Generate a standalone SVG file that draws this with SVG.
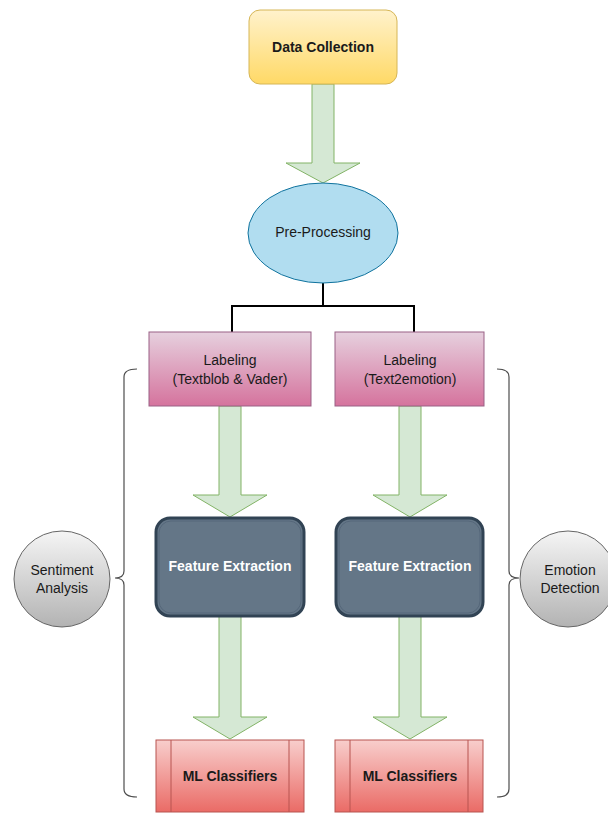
<svg xmlns="http://www.w3.org/2000/svg" width="608" height="814" viewBox="0 0 608 814">
<defs>
<linearGradient id="gY" x1="0" y1="0" x2="0" y2="1"><stop offset="0" stop-color="#fff2cc"/><stop offset="1" stop-color="#ffd966"/></linearGradient>
<linearGradient id="gP" x1="0" y1="0" x2="0" y2="1"><stop offset="0" stop-color="#e6d0de"/><stop offset="1" stop-color="#d5739d"/></linearGradient>
<linearGradient id="gR" x1="0" y1="0" x2="0" y2="1"><stop offset="0" stop-color="#f8cecc"/><stop offset="1" stop-color="#ea6b66"/></linearGradient>
<linearGradient id="gG" x1="0" y1="0" x2="0" y2="1"><stop offset="0" stop-color="#f5f5f5"/><stop offset="1" stop-color="#b3b3b3"/></linearGradient>
</defs>
<style>
text{font-family:"Liberation Sans",Arial,sans-serif;font-size:14px;text-anchor:middle;dominant-baseline:central;fill:#1a1a1a}
.b{font-weight:bold}
.w{fill:#ffffff}
.arr{fill:#d5e8d4;stroke:#82b366;stroke-width:1}
.lab{fill:url(#gP);stroke:#996185;stroke-width:1}
.fe{fill:#647687;stroke:#314354;stroke-width:3}
.fei{fill:none;stroke:#55677a;stroke-width:1}
.ml{fill:url(#gR);stroke:#b85450;stroke-width:1}
.circ{fill:url(#gG);stroke:#666666;stroke-width:1}
.brace{fill:none;stroke:#4d4d4d;stroke-width:1.2}
.conn{fill:none;stroke:#000000;stroke-width:2}
</style>
<g id="connectors">
<polygon class="arr" points="312,84 334,84 334,163 360,163 323,183 286,163 312,163"/>
<path class="conn" d="M323,283 V306 M232,332 V306 H414 V332"/>
<polygon class="arr" points="219,406 241,406 241,495 267,495 230,517 193,495 219,495"/>
<polygon class="arr" points="399,406 421,406 421,495 447,495 410,517 373,495 399,495"/>
<polygon class="arr" points="219,616 241,616 241,717 267,717 230,739 193,717 219,717"/>
<polygon class="arr" points="399,616 421,616 421,717 447,717 410,739 373,717 399,717"/>
<path class="brace" d="M137,369 Q124,369 124,377 L124,571 Q124,578 115,578 Q124,578 124,585 L124,789 Q124,797 137,797"/>
<path class="brace" d="M497,369 Q509,369 509,377 L509,571 Q509,578 519,578 Q509,578 509,585 L509,789 Q509,797 497,797"/>
</g>
<g id="data-collection">
<rect x="249" y="10" width="148" height="74" rx="11" fill="url(#gY)" stroke="#d6b656"/>
<text class="b" x="323" y="47">Data Collection</text>
</g>
<g id="pre-processing">
<ellipse cx="323" cy="233" rx="75" ry="50" fill="#b1ddf0" stroke="#10739e"/>
<text x="323" y="232">Pre-Processing</text>
</g>
<g id="labeling-left">
<rect class="lab" x="149" y="332" width="162" height="74"/>
<text x="230" y="360">Labeling</text>
<text x="230" y="379">(Textblob &amp; Vader)</text>
</g>
<g id="labeling-right">
<rect class="lab" x="335" y="332" width="149" height="74"/>
<text x="410" y="360">Labeling</text>
<text x="410" y="379">(Text2emotion)</text>
</g>
<g id="feature-left">
<rect class="fe" x="156" y="518" width="148" height="98" rx="14"/>
<rect class="fei" x="159" y="521" width="142" height="92" rx="12"/>
<text class="b w" x="230" y="566">Feature Extraction</text>
</g>
<g id="feature-right">
<rect class="fe" x="336" y="518" width="147" height="98" rx="14"/>
<rect class="fei" x="339" y="521" width="141" height="92" rx="12"/>
<text class="b w" x="410" y="566">Feature Extraction</text>
</g>
<g id="ml-left">
<rect class="ml" x="156" y="740" width="148" height="72"/>
<path class="ml" d="M171,740 V812 M289,740 V812" fill="none"/>
<text class="b" x="230" y="776">ML Classifiers</text>
</g>
<g id="ml-right">
<rect class="ml" x="335" y="740" width="148" height="72"/>
<path class="ml" d="M350,740 V812 M468,740 V812" fill="none"/>
<text class="b" x="410" y="776">ML Classifiers</text>
</g>
<g id="sentiment-analysis">
<circle class="circ" cx="62" cy="579" r="48"/>
<text x="62" y="570">Sentiment</text>
<text x="62" y="588">Analysis</text>
</g>
<g id="emotion-detection">
<circle class="circ" cx="568" cy="579" r="48"/>
<text x="570" y="570">Emotion</text>
<text x="570" y="588">Detection</text>
</g>
</svg>
